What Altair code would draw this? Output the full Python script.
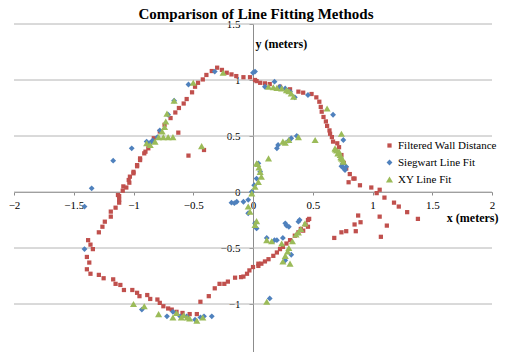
import altair as alt
import pandas as pd

# ---- data ----
fwd_x = [-0.025, 0.017, -0.08, -0.14, -0.18, -0.22, -0.26, -0.30, -0.345, -0.39, -0.42, -0.46, -0.485, -0.51,
         -0.555, -0.58, -0.62, -0.65, -0.69, -0.74, -0.78, -0.83, -0.876, -0.876, -0.90, -0.91, -0.945, -0.945,
         -0.97, -0.97, -1.0, -1.0, -1.03, -1.04, -1.035, -1.085, -1.06, -1.09, -1.13, -1.12, -1.12, -1.12, -1.15,
         -1.19, -1.19, -1.24, -1.26, -1.29, -1.38, -1.36, -1.34, -1.39, -1.37, -1.39, -1.36, -1.29, -1.25, -1.17,
         -1.15, -1.11, -1.08, -1.01, -0.97, -0.95, -0.885, -0.86, -0.80, -0.78, -0.75, -0.71, -0.68, -0.64, -0.59,
         -0.53, -0.47, -0.44, -0.37, -0.32, -0.28, -0.24, -0.21, -0.15, -0.10, -0.08, -0.03, 0.0, 0.045, 0.045,
         0.10, 0.17, 0.226, 0.28, 0.35, 0.42, 0.46, 0.47, 0.46, 0.40, 0.44, 0.38, 0.31, 0.25, 0.20, 0.13, 0.07,
         -0.05, 0.03, 0.06, 0.10, 0.14, 0.226, 0.31, 0.38, 0.42, 0.49, 0.53, 0.555, 0.567, 0.575, 0.59, 0.61,
         0.62, 0.64, 0.645, 0.66, 0.67, 0.705, 0.72, 0.74, 0.76, 0.78, 0.81, 0.84, 0.80, 0.85, 0.895, 0.99, 1.06,
         1.035, 1.10, 1.18, 1.22, 1.29, 1.38, 0.88, 0.90, 0.85, 0.86, 0.78, 0.74, 0.68, 1.06, 1.12, 1.07,
         -0.625, -0.54, -0.41]
fwd_y = [1.025, 1.0, 1.025, 1.035, 1.05, 1.065, 1.09, 1.11, 1.08, 1.045, 1.005, 0.975, 0.94, 0.89,
         0.83, 0.79, 0.75, 0.71, 0.66, 0.60, 0.54, 0.48, 0.435, 0.39, 0.36, 0.345, 0.30, 0.285,
         0.24, 0.23, 0.18, 0.167, 0.137, 0.107, 0.083, 0.05, 0.04, 0.012, -0.027, -0.036, -0.07, -0.095, -0.14,
         -0.175, -0.22, -0.265, -0.31, -0.36, -0.43, -0.47, -0.51, -0.58, -0.63, -0.69, -0.73, -0.74, -0.77, -0.78,
         -0.82, -0.83, -0.875, -0.875, -0.90, -0.93, -0.92, -0.955, -0.96, -0.99, -1.02, -1.04, -1.05, -1.07, -1.08,
         -1.09, -1.09, -0.98, -0.93, -0.86, -0.82, -0.82, -0.80, -0.765, -0.76, -0.755, -0.70, -0.67, -0.64, -0.66,
         -0.62, -0.57, -0.51, -0.46, -0.39, -0.345, -0.31, -0.24, -0.25, -0.33, -0.29, -0.36, -0.43, -0.49, -0.54, -0.60, -0.64,
         -0.73, 0.99, 0.975, 0.97, 0.964, 0.94, 0.917, 0.896, 0.887, 0.875, 0.845, 0.806, 0.76, 0.717, 0.67, 0.63,
         0.59, 0.55, 0.52, 0.49, 0.45, 0.435, 0.40, 0.33, 0.26, 0.21, 0.16, 0.12, 0.087, 0.12, 0.06, 0.04, 0.02,
         -0.01, -0.05, -0.095, -0.13, -0.18, -0.24, -0.21, -0.27, -0.29, -0.35, -0.35, -0.36, -0.41, -0.22, -0.30, -0.40,
         0.53, 0.325, 0.375]

sieg_x = [0.017, 0.0, 0.10, 0.18, 0.226, 0.27, 0.31, 0.35, 0.46, 0.67, 0.756, 0.74, 0.77, 0.78, 0.75, 0.76,
          -0.32, -0.54, -0.66, -0.71, -0.78, -0.80, -0.89, -0.86, -0.84, -1.015, -1.17, -1.35, -1.41, -1.41,
          -0.93, -0.72, -0.67, -0.61, -0.555, -0.485, -0.44, -0.41, -0.345,
          0.366, 0.32, 0.30, 0.21, 0.20, 0.045, 0.06, 0.03, 0.01, -0.01, -0.04, -0.08, -0.136, -0.18, -0.156,
          -0.04, 0.017, 0.03, 0.115, 0.18, 0.25, 0.28, 0.30, 0.27, 0.38, 0.39, 0.32, 0.27, 0.14, 0.20]
sieg_y = [1.075, 1.065, 0.94, 0.985, 0.94, 0.925, 0.896, 0.845, 0.866, 0.69, 0.464, 0.23, 0.196, 0.226, 0.25, 0.21,
          1.075, 0.96, 0.815, 0.69, 0.55, 0.49, 0.45, 0.44, 0.46, 0.39, 0.28, 0.033, -0.13, -0.51,
          -1.05, -1.11, -1.07, -1.11, -1.11, -1.14, -1.12, -1.11, -1.11,
          0.50, 0.48, 0.46, 0.42, 0.39, 0.256, 0.18, 0.12, 0.06, 0.003, -0.07, -0.087, -0.087, -0.095, -0.10,
          -0.19, -0.28, -0.325, -0.41, -0.43, -0.41, -0.30, -0.31, -0.28, -0.265, -0.25, -0.56, -0.61, -0.95, -0.43]

xy_x = [0.13, 0.17, 0.24, 0.28, 0.32, 0.34, 0.20, 0.30, 0.62, 0.74, 0.52, 0.25, 0.30, 0.38, 0.13,
        0.686, 0.70, 0.71, 0.73, 0.74, 0.756, 0.69, 0.72, 0.735, 0.75,
        0.03, 0.06, 0.07, 0.045, 0.017, -0.01, 0.05, 0.04, 0.27, -0.04, -0.025, 0.017, 0.03,
        0.115, 0.156, 0.24, 0.25, 0.27, 0.30, 0.33, 0.36, 0.40, 0.435, 0.31, 0.115, 0.29, 0.38,
        -1.0, -0.91, -0.79, -0.67, -0.64, -0.60, -0.53, -0.47, -0.42, -0.58, -0.55,
        -0.89, -0.86, -0.82, -0.79, -0.76, -0.74, -0.73, -0.72, -0.66, -0.75, -0.71, -0.67, -0.43, -0.50, -0.25]
xy_y = [0.94, 0.935, 0.925, 0.91, 0.88, 0.85, 0.93, 0.90, 0.745, 0.52, 0.464, 0.45, 0.464, 0.49, 0.30,
        0.39, 0.37, 0.345, 0.33, 0.30, 0.27, 0.38, 0.36, 0.31, 0.29,
        0.256, 0.18, 0.137, 0.09, 0.047, -0.012, 0.22, 0.25, 0.44, -0.13, -0.176, -0.295, -0.26,
        -0.43, -0.44, -0.46, -0.62, -0.57, -0.50, -0.44, -0.38, -0.33, -0.28, -0.64, -0.98, -0.53, -0.36,
        -1.0, -1.02, -1.09, -1.12, -1.08, -1.12, -1.13, -1.15, -1.12, -1.10, -1.12,
        0.435, 0.42, 0.45, 0.49, 0.54, 0.58, 0.63, 0.70, 0.815, 0.49, 0.49, 0.49, 0.41, 0.975, 1.065]

chart_title = ["Comparison of Line Fitting Methods"]
series_names = ["Filtered Wall Distance", "Siegwart Line Fit", "XY Line Fit"]
series_colors = ["#C0504D", "#4F81BD", "#9BBB59"]
series_shapes = ["square", "diamond", "triangle-up"]
series_sizes = [18, 50, 28]
x_ticks = [-2, -1.5, -1, -0.5, 0, 0.5, 1, 1.5, 2]
y_ticks = [-1.5, -1, -0.5, 0, 0.5, 1, 1.5]

rows = []
for name, xs, ys in zip(series_names, [fwd_x, sieg_x, xy_x], [fwd_y, sieg_y, xy_y]):
    for a, b in zip(xs, ys):
        rows.append({"x": a, "y": b, "series": name})
df = pd.DataFrame(rows)

W = 478
VH = 328
FULLH = 336
FONT = "Liberation Serif"

xscale = alt.Scale(domain=[-2, 2], nice=False, zero=False)
yscale = alt.Scale(domain=[-1.5, 1.5], nice=False, zero=False, range=[FULLH, 0])

yaxis = alt.Axis(values=y_ticks, format="~g", grid=False, offset=-W / 2, title="y (meters)",
                 titleAngle=0, titleX=2, titleY=19, titleAlign="left", titleBaseline="middle",
                 titleFont=FONT, titleFontSize=12, titleFontWeight="bold", titleColor="#000000",
                 labelPadding=9, tickSize=4, labelFlush=False, labelOverlap=False)
xaxis = alt.Axis(values=x_ticks, format="~g", grid=False, offset=-(VH - FULLH / 2), title="x (meters)",
                 titleX=484, titleY=25, titleAlign="right", titleBaseline="middle",
                 titleFont=FONT, titleFontSize=12, titleFontWeight="bold", titleColor="#000000",
                 labelPadding=4, tickSize=3, labelFlush=False, labelOverlap=False)

grid = alt.Chart(pd.DataFrame({"v": y_ticks})).mark_rule(color="#B4B4B4", strokeWidth=1).encode(
    y=alt.Y("v:Q", scale=yscale, axis=yaxis)
)

leg = alt.Legend(orient="none", legendX=370, legendY=116, title=None, labelFont=FONT,
                 labelFontSize=11, labelColor="#000000", labelOffset=3, rowPadding=5, padding=0)

points = alt.Chart(df).mark_point(filled=True, opacity=1).encode(
    x=alt.X("x:Q", scale=xscale, axis=xaxis),
    y=alt.Y("y:Q", scale=yscale, axis=yaxis),
    color=alt.Color("series:N", scale=alt.Scale(domain=series_names, range=series_colors), legend=leg),
    shape=alt.Shape("series:N", scale=alt.Scale(domain=series_names, range=series_shapes), legend=leg),
    size=alt.Size("series:N", scale=alt.Scale(domain=series_names, range=series_sizes), legend=leg),
)

title = alt.Chart(pd.DataFrame({"t": chart_title})).mark_text(
    font=FONT, fontSize=15, fontWeight="bold", color="#000000", baseline="alphabetic", align="center"
).encode(text="t:N", x=alt.value(W / 2 + 3), y=alt.value(-5))

chart = alt.layer(grid, points, title).properties(
    width=W, height=VH,
    autosize=alt.AutoSizeParams(type="none"),
    padding={"left": 6, "top": 16, "right": 7, "bottom": 0},
).configure_view(stroke=None).configure_axis(
    labelFont=FONT, labelFontSize=11, labelColor="#000000",
    domainColor="#8C8C8C", tickColor="#8C8C8C", domainWidth=1, tickWidth=1,
)

chart.save("out.html", embed_options={"renderer": "svg", "actions": False})
